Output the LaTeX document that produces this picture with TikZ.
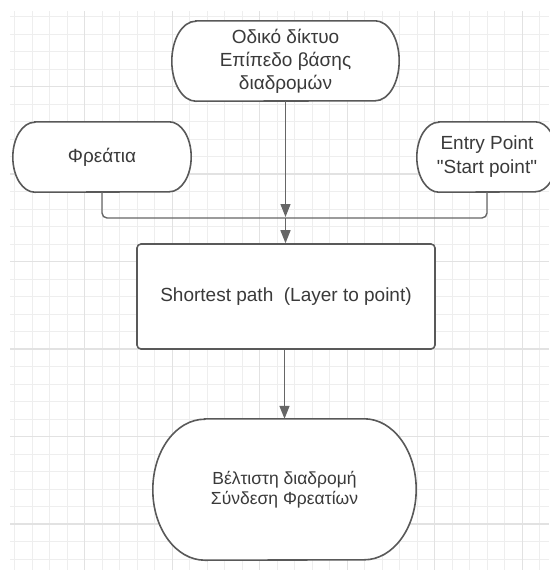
\documentclass[tikz,border=0pt]{standalone}
\usepackage{fontspec}
\setmainfont{Liberation Sans}[Ligatures=TeXOff]
\usetikzlibrary{arrows.meta}
\definecolor{gridminor}{HTML}{EEEEEE}
\definecolor{gridmajor}{HTML}{E2E2E2}
\definecolor{edgecol}{HTML}{595959}
\definecolor{linecol}{HTML}{666666}
\definecolor{txtcol}{HTML}{3A3A3A}
\newcommand\termseg[3]{([xshift=#2]#1.north west) -- ([xshift=-#2]#1.north east)
    arc[start angle=90,end angle=-90,x radius=#2,y radius=#3]
    -- ([xshift=#2]#1.south west)
    arc[start angle=270,end angle=90,x radius=#2,y radius=#3] -- cycle}
\newcommand\termoutline[3]{\draw[outl,fill=white] \termseg{#1}{#2}{#3};}
\begin{document}
\begin{tikzpicture}[x=1pt,y=1pt,
  outl/.style={draw=edgecol,line width=1.6pt},
  termnode/.style={inner sep=0pt,align=center,text=txtcol,font=\fontsize{19}{23}\selectfont},
  procbox/.style={draw=edgecol,fill=white,line width=1.6pt,rounded corners=4pt,inner sep=0pt,align=center,text=txtcol,font=\fontsize{19}{23}\selectfont},
  conn/.style={draw=linecol,line width=1.4pt,rounded corners=5pt},
  arr/.style={conn,-{Triangle[length=13pt,width=10pt]}}]
\useasboundingbox (0,0) rectangle (549,-570);
\fill[white] (0,0) rectangle (549,-570);
% shape frames (invisible) to place everything
\path node[termnode,minimum width=227pt,minimum height=80pt] (a) at (285.5,-61) {\phantom{X}}
      node[termnode,minimum width=178pt,minimum height=70pt] (f) at (102,-157) {\phantom{X}}
      node[termnode,minimum width=140pt,minimum height=70pt] (e) at (487,-157) {\phantom{X}}
      node[termnode,minimum width=263pt,minimum height=141pt] (b) at (284.5,-489.5) {\phantom{X}}
      coordinate (snw) at (137,-244) coordinate (sse) at (435,-349);
% grid, kept out of the shapes
\begin{scope}[even odd rule]
\clip (0,0) rectangle (549,-570) \termseg{a}{24}{40} \termseg{f}{22}{35} \termseg{e}{22}{35} \termseg{b}{52}{70.5} (snw) rectangle (sse);
\begin{scope}[shift={(14.8,-16.5)}]
\draw[gridminor,line width=1pt,step=17.5pt] (-4.8,5.5) grid (534.2,-553.5);
\end{scope}
\begin{scope}[shift={(84.8,-86.5)}]
\draw[gridmajor,line width=1.1pt,step=87.5pt] (-74.8,75.5) grid (464.2,-483.5);
\end{scope}
\end{scope}
\termoutline{a}{24}{40}
\termoutline{f}{22}{35}
\termoutline{e}{22}{35}
\termoutline{b}{52}{70.5}
\node[termnode] (at) at (a.center) {Οδικό δίκτυο\\Επίπεδο βάσης\\διαδρομών};
\node[termnode] (ft) at (f.center) {Φρεάτια};
\node[termnode,font=\fontsize{19}{24}\selectfont] (et) at (e.center) {Entry Point\\"Start point"};
\node[termnode,font=\fontsize{17.5}{19.5}\selectfont] (bt) at (b.center) {Βέλτιστη διαδρομή\\Σύνδεση Φρεατίων};
\node[procbox,minimum width=298pt,minimum height=105pt] (s) at (286,-296.5) {Shortest path\ \ (Layer to point)};
\coordinate (j) at (285.5,-218);
\draw[conn] (f.south) |- (j);
\draw[conn] (e.south) |- (j);
\draw[arr] (a.south) -- ([yshift=1pt]j);
\draw[arr] (j) -- (j |- s.north);
\draw[arr] (s.south -| b.north) -- (b.north);
\end{tikzpicture}
\end{document}
